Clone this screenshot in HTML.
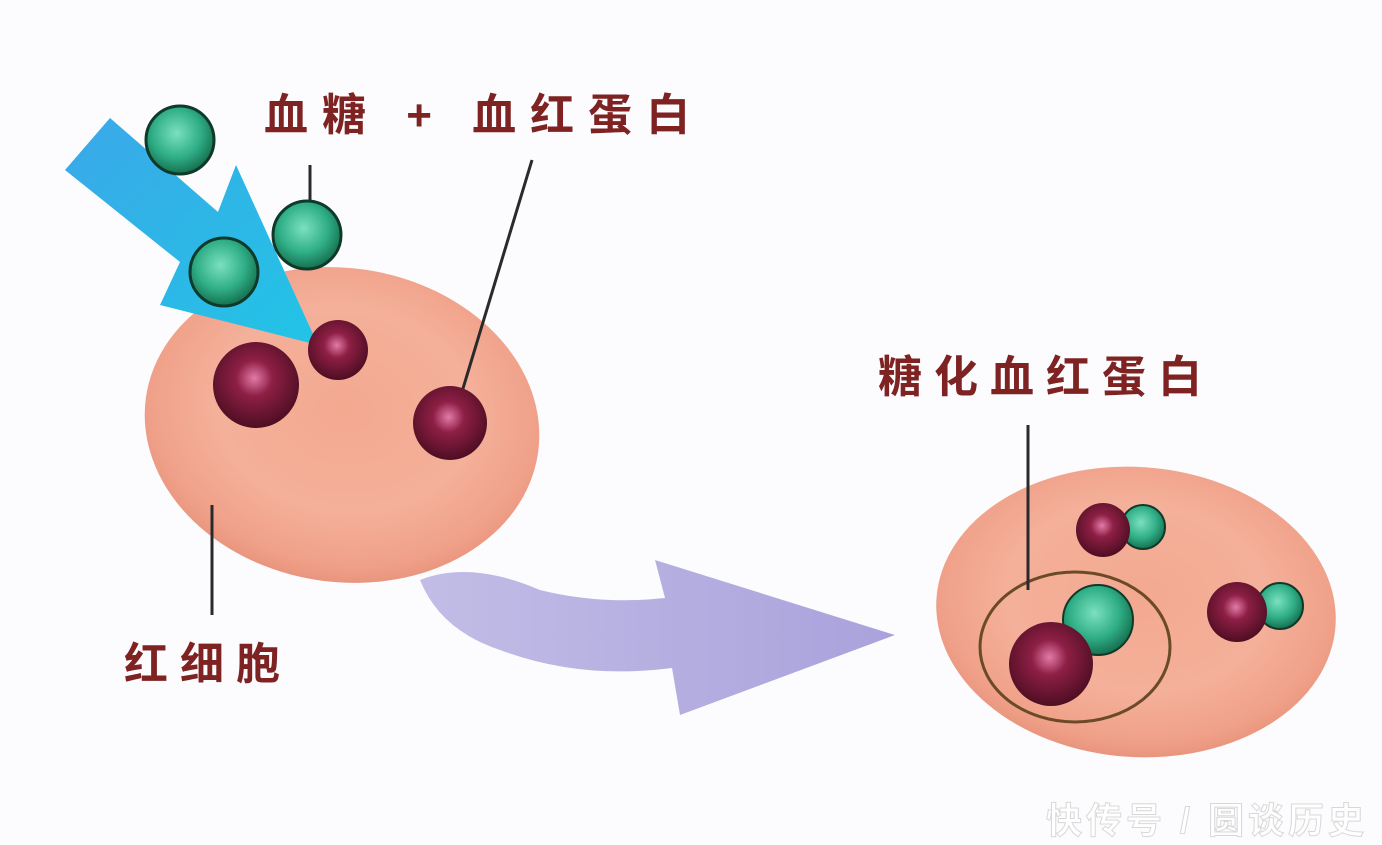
<!DOCTYPE html>
<html><head><meta charset="utf-8"><style>
html,body{margin:0;padding:0;background:#fcfcfe;}
svg{display:block}
text{font-family:"Liberation Sans","Noto Sans CJK SC",sans-serif;font-weight:bold;}
</style></head><body>
<svg width="1382" height="845" viewBox="0 0 1382 845" xmlns="http://www.w3.org/2000/svg">
<defs>
<radialGradient id="cell" cx="50%" cy="45%" r="55%">
<stop offset="0" stop-color="#f3a990"/><stop offset="0.6" stop-color="#f4b09a"/><stop offset="0.9" stop-color="#f0a088"/><stop offset="1" stop-color="#e9957e"/></radialGradient>
<radialGradient id="grn" cx="45%" cy="40%" r="60%"><stop offset="0" stop-color="#7be0c0"/><stop offset="0.6" stop-color="#2fae86"/><stop offset="1" stop-color="#16704f"/></radialGradient>
<radialGradient id="mar" cx="48%" cy="42%" r="60%"><stop offset="0" stop-color="#e27aa8"/><stop offset="0.35" stop-color="#8e1f45"/><stop offset="1" stop-color="#4a0d20"/></radialGradient>
<linearGradient id="blue" x1="0" y1="0" x2="1" y2="1"><stop offset="0" stop-color="#3aa8e8"/><stop offset="1" stop-color="#22c4e6"/></linearGradient>
<linearGradient id="purp" x1="0" y1="0" x2="1" y2="0"><stop offset="0" stop-color="#c2bde6"/><stop offset="1" stop-color="#a9a2dc"/></linearGradient>
</defs>
<rect width="1382" height="845" fill="#fcfcfe"/>
<ellipse cx="342" cy="425" rx="198" ry="157" transform="rotate(8 342 425)" fill="url(#cell)"/>
<polygon points="110,118 218,212 236,165 318,345 160,305 180,262 65,170" fill="url(#blue)"/>
<path d="M420,580 Q470,560 540,590 Q600,605 665,598 L655,560 L895,635 L680,715 L672,668 Q580,680 500,650 Q440,630 420,580 Z" fill="url(#purp)"/>
<ellipse cx="1136" cy="612" rx="200" ry="145" transform="rotate(4 1136 612)" fill="url(#cell)"/>
<ellipse cx="1075" cy="647" rx="95" ry="75" fill="none" stroke="#6b4a2a" stroke-width="3"/>
<line x1="310" y1="165" x2="310" y2="215" stroke="#2a2a2a" stroke-width="3"/>
<line x1="532" y1="160" x2="458" y2="405" stroke="#2a2a2a" stroke-width="3"/>
<line x1="212" y1="505" x2="212" y2="615" stroke="#2a2a2a" stroke-width="3"/>
<line x1="1028" y1="425" x2="1028" y2="590" stroke="#2a2a2a" stroke-width="3"/>
<circle cx="180" cy="140" r="34" fill="url(#grn)" stroke="#0f3a2a" stroke-width="3"/>
<circle cx="307" cy="235" r="34" fill="url(#grn)" stroke="#0f3a2a" stroke-width="3"/>
<circle cx="224" cy="272" r="34" fill="url(#grn)" stroke="#0f3a2a" stroke-width="3"/>
<circle cx="256" cy="385" r="43" fill="url(#mar)"/>
<circle cx="338" cy="350" r="30" fill="url(#mar)"/>
<circle cx="450" cy="423" r="37" fill="url(#mar)"/>
<circle cx="1098" cy="620" r="35" fill="url(#grn)" stroke="#0f3a2a" stroke-width="2"/>
<circle cx="1051" cy="664" r="42" fill="url(#mar)"/>
<circle cx="1143" cy="527" r="22" fill="url(#grn)" stroke="#0f3a2a" stroke-width="2"/>
<circle cx="1103" cy="530" r="27" fill="url(#mar)"/>
<circle cx="1280" cy="606" r="23" fill="url(#grn)" stroke="#0f3a2a" stroke-width="2"/>
<circle cx="1237" cy="612" r="30" fill="url(#mar)"/>
<text x="264" y="130" font-size="44" fill="#7e2222" letter-spacing="14">血糖 + 血红蛋白</text>
<text x="124" y="679" font-size="44" fill="#7e2222" letter-spacing="12">红细胞</text>
<text x="878" y="392" font-size="44" fill="#7e2222" letter-spacing="12">糖化血红蛋白</text>
<text x="1046" y="833" font-size="36" fill="#ffffff" stroke="#d8d8d8" stroke-width="1" font-weight="normal" letter-spacing="4">快传号 / 圆谈历史</text>
</svg>
</body></html>
